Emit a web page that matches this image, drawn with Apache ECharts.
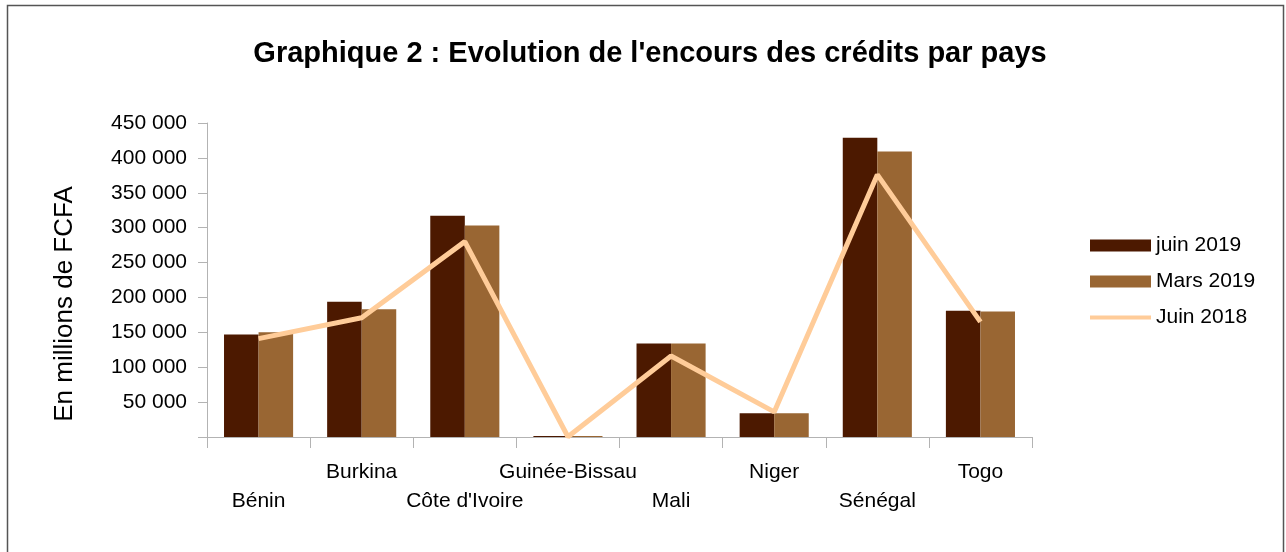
<!DOCTYPE html>
<html>
<head>
<meta charset="utf-8">
<script src="https://cdn.jsdelivr.net/npm/echarts@6/dist/echarts.min.js"></script>
<style>
    html, body { margin: 0; padding: 0; background: #fff; }
    #chart { width: 1286px; height: 552px; }
</style>
</head>
<body>
<div id="chart"></div>
<script>
    const pays = ['Bénin', 'Burkina', "Côte d'Ivoire", 'Guinée-Bissau', 'Mali', 'Niger', 'Sénégal', 'Togo']
    const juin2019 = [147000, 194000, 317000, 1300, 134000, 34000, 429000, 181000]
    const mars2019 = [150000, 183000, 303000, 1300, 134000, 34000, 409000, 180000]
    const juin2018 = [141000, 171000, 280000, 300, 116000, 36000, 376000, 165000]
    const yTicks = { min: 0, max: 450000, interval: 50000 }

    const font = 'Liberation Sans, Arial, sans-serif'
    const axisGray = '#b3b3b3'

    const fmt = v => (v === 0 ? '' : String(v).replace(/\B(?=(\d{3})+(?!\d))/g, ' '))

    const chart = echarts.init(document.getElementById('chart'))

    const legendText = { fontSize: 21, color: '#000', fontFamily: font }

    const option = {
        animation: false,
        textStyle: { fontFamily: font },
        title: {
            text: "Graphique 2 : Evolution de l'encours des crédits par pays",
            left: 645,
            textAlign: 'center',
            top: 34,
            textStyle: { fontSize: 29, fontWeight: 'bold', color: '#000', fontFamily: font }
        },
        graphic: [
            {
                type: 'rect',
                shape: { x: 7.5, y: 5.5, width: 1276, height: 600 },
                style: { fill: 'none', stroke: '#555', lineWidth: 1.5 },
                silent: true
            },
            {
                type: 'text',
                x: 65,
                y: 304,
                rotation: Math.PI / 2,
                style: {
                    text: 'En millions de FCFA',
                    fontSize: 26,
                    fontFamily: font,
                    fill: '#000',
                    align: 'center',
                    verticalAlign: 'middle'
                }
            }
        ],
        legend: [
            {
                orient: 'vertical',
                left: 1085,
                top: 230,
                itemWidth: 61,
                itemHeight: 12,
                itemGap: 15,
                textStyle: legendText,
                data: [
                    { name: 'juin 2019', icon: 'rect' },
                    { name: 'Mars 2019', icon: 'rect' }
                ]
            },
            {
                orient: 'vertical',
                left: 1085,
                top: 302,
                itemWidth: 61,
                itemHeight: 4,
                textStyle: legendText,
                data: [{ name: 'Juin 2018', icon: 'rect' }]
            }
        ],
        grid: {
            left: 207,
            right: 254,
            top: 123,
            bottom: 115,
            containLabel: false
        },
        xAxis: {
            type: 'category',
            data: pays,
            axisLine: { lineStyle: { color: axisGray, width: 1 } },
            axisTick: { show: true, length: 11, lineStyle: { color: axisGray } },
            axisLabel: {
                interval: 0,
                margin: 21,
                fontSize: 21,
                lineHeight: 29,
                color: '#000',
                fontFamily: font,
                formatter: (v, i) => (i % 2 === 0 ? '\n' + v : v)
            }
        },
        yAxis: {
            type: 'value',
            min: yTicks.min,
            max: yTicks.max,
            interval: yTicks.interval,
            axisLine: { show: true, lineStyle: { color: axisGray, width: 1 } },
            axisTick: { show: true, length: 9, lineStyle: { color: axisGray } },
            splitLine: { show: false },
            axisLabel: {
                margin: 20,
                fontSize: 21,
                color: '#000',
                fontFamily: font,
                formatter: fmt
            }
        },
        series: [
            {
                name: 'juin 2019',
                type: 'bar',
                data: juin2019,
                barGap: '0%',
                barCategoryGap: '33%',
                itemStyle: { color: '#4c1900' }
            },
            {
                name: 'Mars 2019',
                type: 'bar',
                data: mars2019,
                barGap: '0%',
                barCategoryGap: '33%',
                itemStyle: { color: '#996633' }
            },
            {
                name: 'Juin 2018',
                type: 'line',
                data: juin2018,
                symbol: 'none',
                z: 5,
                lineStyle: { color: '#ffcc99', width: 5 },
                itemStyle: { color: '#ffcc99' }
            }
        ]
    }

    chart.setOption(option)
</script>
</body>
</html>
